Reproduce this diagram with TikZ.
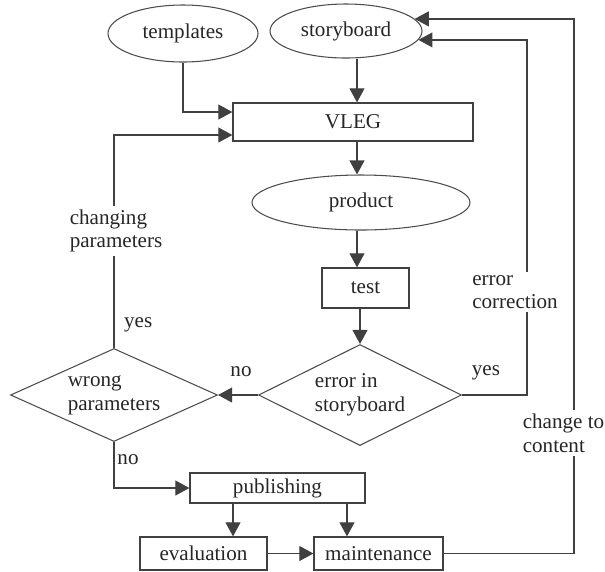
\documentclass[tikz,border=0pt]{standalone}
\usepackage{fontspec}
\setmainfont{Liberation Serif}
\usetikzlibrary{arrows.meta,shapes.geometric}

\begin{document}
\begin{tikzpicture}[
        font=\fontsize{12}{13.5}\selectfont,
        every node/.style={text=black!85},
        box/.style={draw=black!75, line width=0.7pt, inner sep=0pt},
        oval/.style={ellipse, draw=black!70, line width=0.6pt, inner sep=0pt},
        decision/.style={diamond, aspect=2, draw=black!70, line width=0.6pt, inner sep=0pt, align=left},
        lbl/.style={inner sep=1pt, align=left},
        gap/.style={fill=white, inner sep=2pt, align=left},
        arr/.style={draw=black!75, line width=0.7pt, -{Triangle[length=8pt,width=8.5pt]}},
        line/.style={draw=black!75, line width=0.7pt}
    ]
            \useasboundingbox (0,0) rectangle (12.1,-11.42);

            \node[
                oval,
                minimum width=3cm,
                minimum height=1.14cm,
                name=templates
            ] at (3.66,-0.67) {templates};
            \node[
                oval,
                minimum width=3.04cm,
                minimum height=1.08cm,
                name=storyboard
            ] at (6.92,-0.62) {storyboard};
            \node[
                box,
                minimum width=4.8cm,
                minimum height=0.76cm,
                name=VLEG
            ] at (7.06,-2.44) {VLEG};
            \node[
                oval,
                minimum width=4.36cm,
                minimum height=1.1cm,
                name=product
            ] at (7.22,-4.05) {product};
            \node[
                box,
                minimum width=1.74cm,
                minimum height=0.8cm,
                name=test
            ] at (7.31,-5.76) {test};
            \node[
                decision,
                minimum width=4.06cm,
                minimum height=2.02cm,
                name=errsb
            ] at (7.2,-7.9) {error in\\storyboard};
            \node[
                decision,
                minimum width=4.14cm,
                minimum height=1.86cm,
                name=wrongp
            ] at (2.28,-7.9) {wrong\\parameters};
            \node[
                box,
                minimum width=3.5cm,
                minimum height=0.6cm,
                name=publishing
            ] at (5.55,-9.76) {publishing};
            \node[
                box,
                minimum width=2.54cm,
                minimum height=0.66cm,
                name=evaluation
            ] at (4.07,-11.07) {evaluation};
            \node[
                box,
                minimum width=2.58cm,
                minimum height=0.66cm,
                name=maintenance
            ] at (7.57,-11.07) {maintenance};

            % columns and corners of the feedback lines
            \coordinate (midcol) at (7.14,0);
            \coordinate (colA) at (4.66,0);
            \coordinate (colB) at (6.94,0);
            \coordinate (ecor) at (10.54,-7.9);
            \coordinate (ccor) at (11.48,-11.07);

            \draw[arr] (templates.south) |- ([yshift=0.2cm]VLEG.west);
            \draw[arr] (storyboard.south -| midcol) -- (VLEG.north -| midcol);
            \draw[arr] (VLEG.south -| midcol) -- (product.north -| midcol);
            \draw[arr] (product.south -| midcol) -- (test.north -| midcol);
            \draw[arr] (test.south -| errsb.north) -- (errsb.north);

            \draw[arr] (errsb.west) -- (wrongp.east);
            \draw[arr] (errsb.east) -- (ecor) |- (storyboard.-7);
            \draw[arr] (wrongp.north) |- ([yshift=-0.26cm]VLEG.west);
            \draw[arr] (wrongp.south) |- (publishing.west);

            \draw[arr] (publishing.south -| colA) -- (evaluation.north -| colA);
            \draw[arr] (publishing.south -| colB) -- (maintenance.north -| colB);
            \draw[arr] (evaluation) -- (maintenance);
            \draw[arr] (maintenance.east) -- (ccor) |- (storyboard.10);

            % labels
            \node[gap, name=chparam] at (2.32,-4.62) {changing\\parameters};
            \node[gap, name=errcorr] at (10.3,-5.84) {error\\correction};
            \node[gap, name=chcont] at (11.27,-8.66) {change to\\content};
            \node[lbl, anchor=west, name=yesL] at (2.44,-6.5) {yes};
            \node[lbl, name=noL] at (4.82,-7.44) {no};
            \node[lbl, name=yesR] at (9.72,-7.46) {yes};
            \node[lbl, name=noB] at (2.56,-9.2) {no};
        \end{tikzpicture}
\end{document}
